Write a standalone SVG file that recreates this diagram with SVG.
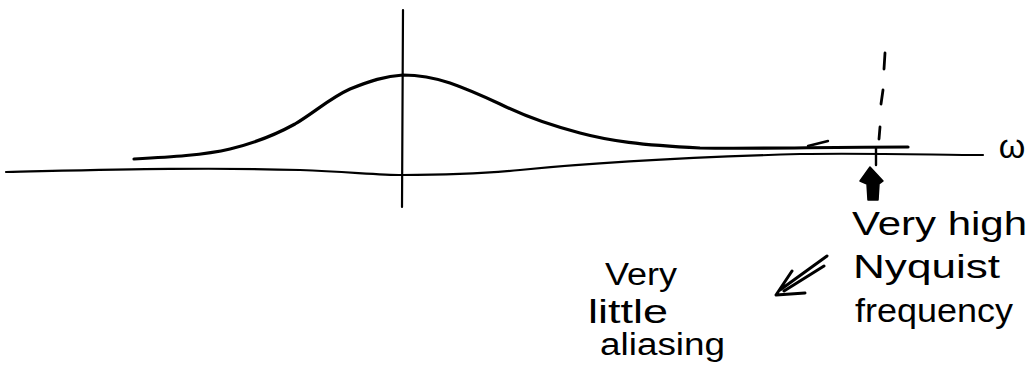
<svg xmlns="http://www.w3.org/2000/svg" width="1034" height="380" viewBox="0 0 1034 380">
<style>
.ink{fill:none;stroke:#000;stroke-linecap:round;stroke-linejoin:round}
.axis{stroke-width:2.2}
.curve{stroke-width:3.2}
.hand{font-family:"Liberation Sans","DejaVu Sans",sans-serif;fill:#000;font-size:34px}
.small{font-size:31px}
</style>
<rect width="1034" height="380" fill="#fff"/>
<g id="axes">
<path class="ink axis" d="M6,172 C100,170 200,167 300,170 C350,172 380,175 402,175 C440,175 480,174 520,170 C600,162 700,157 800,154 C880,153 940,155 983,155"/>
<path class="ink axis" d="M403,10 L402,207"/>
<text id="omega" class="hand" x="1012" y="158" text-anchor="middle" font-size="36">ω</text>
</g>
<g id="spectrum">
<path class="ink curve" d="M134,159 C170,157 205,155 230,149 C255,143 275,135 295,124 C315,112 330,98 350,89 C370,81 385,76 403,75 C420,75 435,78 450,83 C470,90 485,97 500,104 C520,114 545,124 580,133 C610,141 640,145 700,148 C760,149 820,147 908,147"/>
<path class="ink" stroke-width="2.4" d="M828,141 L808,146"/>
</g>
<g id="nyquist">
<path class="ink" stroke-width="2.8" d="M885,53 L884,69 M883,90 L881,104 M880,127 L879,139"/>
<path class="ink" stroke-width="2.4" d="M876,148 L876,165"/>
</g>
<g id="connectors">
<path d="M870,167 L883,181 L879,184 L878,200 L868,200 L867,184 L860,181 Z" fill="#000" stroke="#000" stroke-width="1.5" stroke-linejoin="round"/>
<path class="ink" stroke-width="3" d="M827,256 L780,290 M824,266 L784,291 M792,271 L776,295 L805,293"/>
</g>
<g id="label-nyquist">
<text class="hand" x="852" y="235" textLength="175" lengthAdjust="spacingAndGlyphs">Very high</text>
<text class="hand" x="853" y="278" textLength="147" lengthAdjust="spacingAndGlyphs">Nyquist</text>
<text class="hand" x="855" y="322" textLength="158" lengthAdjust="spacingAndGlyphs">frequency</text>
</g>
<g id="label-aliasing">
<text class="hand small" x="605" y="285" textLength="72" lengthAdjust="spacingAndGlyphs">Very</text>
<text class="hand" x="588" y="323" font-size="35" textLength="80" lengthAdjust="spacingAndGlyphs">little</text>
<text class="hand small" x="600" y="355" textLength="125" lengthAdjust="spacingAndGlyphs">aliasing</text>
</g>
</svg>
